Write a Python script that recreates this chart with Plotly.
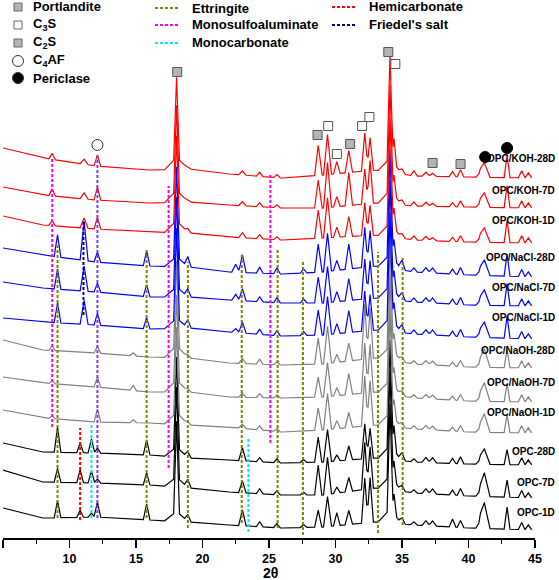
import numpy as np
import plotly.graph_objects as go

# ---------------- data ----------------
SAMPLES = ["OPC/KOH-28D", "OPC/KOH-7D", "OPC/KOH-1D",
           "OPC/NaCl-28D", "OPC/NaCl-7D", "OPC/NaCl-1D",
           "OPC/NaOH-28D", "OPC/NaOH-7D", "OPC/NaOH-1D",
           "OPC-28D", "OPC-7D", "OPC-1D"]

# baseline (background) level of each stacked pattern, a.u. (offset included)
BASE_2THETA = [5, 8, 12, 16, 19, 22, 26, 29, 33, 36, 40, 45]
BASELINES = {
    "OPC/KOH-28D":  [390, 380, 372, 368, 369, 364, 360, 363, 368, 362, 361, 360],
    "OPC/KOH-7D":   [351, 343, 338, 335, 336, 333, 330, 330, 335, 332, 331, 330],
    "OPC/KOH-1D":   [322, 313, 309, 306, 305, 301, 298, 300, 303, 298, 296, 295],
    "OPC/NaCl-28D": [290, 283, 276, 272, 271, 266, 264, 266, 272, 266, 263, 261],
    "OPC/NaCl-7D":  [256, 250, 246, 241, 241, 238, 235, 235, 240, 236, 233, 232],
    "OPC/NaCl-1D":  [220, 216, 213, 209, 210, 206, 202, 203, 208, 204, 201, 199],
    "OPC/NaOH-28D": [198, 188, 185, 181, 180, 175, 173, 174, 180, 174, 171, 170],
    "OPC/NaOH-7D":  [161, 155, 151, 146, 146, 141, 140, 141, 146, 140, 137, 136],
    "OPC/NaOH-1D":  [128, 120, 116, 115, 113, 111, 106, 108, 113, 109, 106, 105],
    "OPC-28D":      [95, 86, 85, 83, 80, 78, 75, 76, 80, 76, 74, 73],
    "OPC-7D":       [68, 56, 55, 53, 50, 46, 43, 43, 50, 45, 42, 40],
    "OPC-1D":       [30, 20, 21, 18, 16, 13, 10, 11, 16, 13, 10, 8],
}

# diffraction peaks: position, half base width (deg 2theta)
PEAK_2THETA = [8.7, 9.1, 10.8, 11.1, 11.65, 12.1, 14.8, 15.8, 18.05, 18.05,
               18.9, 22.5, 23.0, 24.3, 25.6, 27.6, 28.7, 29.4, 30.1, 31.0,
               32.2, 32.6, 34.1, 34.1, 34.4, 35.0, 35.9, 36.8, 37.3, 38.8,
               39.4, 41.2, 40.9, 42.9, 44.0, 44.5]
PEAK_HALFWIDTH = [0.25, 0.25, 0.25, 0.3, 0.25, 0.25, 0.25, 0.25, 0.22, 0.9,
                  0.25, 0.3, 0.28, 0.25, 0.25, 0.25, 0.27, 0.3, 0.25, 0.28,
                  0.25, 0.25, 0.22, 0.9, 0.2, 0.25, 0.25, 0.3, 0.3, 0.25,
                  0.25, 0.42, 0.35, 0.22, 0.25, 0.25]
PEAK_HEIGHTS = {
    "OPC/KOH-28D":  [6, 0, 0, 5, 0, 11, 0, 0, 80, 12, 2, 0, 4, 4, 3, 0, 30, 40, 12, 22,
                     38, 33, 105, 14, 25, 5, 5, 4, 3, 5, 7, 14, 5, 22, 7, 5],
    "OPC/KOH-7D":   [7, 0, 0, 6, 0, 13, 0, 0, 85, 12, 2, 0, 4, 4, 3, 0, 28, 45, 10, 33,
                     35, 43, 105, 14, 20, 5, 4, 4, 3, 4, 6, 14, 5, 22, 7, 5],
    "OPC/KOH-1D":   [5, 0, 0, 10, 0, 12, 0, 0, 85, 12, 4, 0, 5, 4, 3, 0, 28, 40, 10, 20,
                     33, 30, 105, 14, 20, 5, 4, 4, 3, 4, 6, 14, 5, 22, 7, 5],
    "OPC/NaCl-28D": [0, 22, 0, 39, 0, 10, 0, 15, 90, 10, 10, 8, 18, 6, 6, 4, 28, 38, 10, 25,
                     40, 36, 105, 14, 20, 10, 4, 5, 5, 5, 7, 15, 5, 22, 7, 5],
    "OPC/NaCl-7D":  [0, 20, 0, 25, 0, 9, 0, 12, 90, 10, 8, 6, 12, 5, 5, 4, 26, 36, 10, 22,
                     40, 38, 105, 14, 20, 8, 4, 5, 5, 5, 7, 15, 5, 22, 7, 5],
    "OPC/NaCl-1D":  [0, 20, 0, 24, 0, 12, 0, 11, 90, 10, 8, 4, 11, 5, 5, 4, 25, 38, 10, 22,
                     40, 36, 105, 14, 20, 8, 4, 5, 5, 5, 7, 15, 5, 22, 7, 5],
    "OPC/NaOH-28D": [5, 0, 0, 0, 0, 7, 3, 0, 85, 12, 3, 0, 5, 5, 3, 0, 26, 37, 8, 18,
                     55, 50, 105, 14, 18, 5, 3, 4, 4, 4, 6, 18, 5, 18, 7, 5],
    "OPC/NaOH-7D":  [3, 0, 0, 0, 0, 10, 5, 0, 85, 12, 3, 0, 4, 4, 3, 0, 20, 34, 8, 21,
                     50, 48, 105, 14, 18, 5, 3, 4, 4, 4, 6, 18, 5, 18, 7, 5],
    "OPC/NaOH-1D":  [3, 0, 0, 0, 0, 13, 3, 0, 85, 12, 3, 0, 4, 4, 3, 0, 22, 36, 8, 15,
                     50, 45, 105, 14, 18, 5, 3, 4, 4, 4, 6, 18, 5, 18, 7, 5],
    "OPC-28D":      [0, 25, 10, 0, 14, 5, 0, 15, 90, 10, 6, 0, 13, 4, 4, 3, 25, 32, 6, 14,
                     35, 30, 105, 14, 25, 8, 3, 5, 5, 5, 7, 15, 5, 15, 7, 5],
    "OPC-7D":       [0, 14, 13, 0, 12, 4, 0, 12, 90, 10, 8, 0, 12, 5, 4, 3, 30, 37, 6, 14,
                     47, 42, 105, 14, 20, 6, 3, 5, 5, 5, 7, 23, 6, 17, 7, 5],
    "OPC-1D":       [0, 17, 7, 0, 4, 15, 0, 16, 90, 10, 7, 0, 16, 5, 4, 3, 17, 30, 13, 14,
                     45, 45, 105, 14, 20, 6, 3, 5, 5, 8, 7, 25, 8, 22, 7, 5],
}

# phase reference lines: 2theta and phase
REF_2THETA = [8.7, 9.1, 11.05, 12.1, 10.8, 11.65, 15.8, 17.45, 18.9, 22.95,
              23.45, 25.1, 25.65, 27.55, 33.2, 35.05]
REF_PHASE = ["Monosulfoaluminate", "Ettringite", "Friedel's salt", "Friedel's salt (KOH)",
             "Hemicarbonate", "Monocarbonate", "Ettringite", "Monosulfoaluminate",
             "Ettringite", "Ettringite", "Monocarbonate", "Monosulfoaluminate",
             "Ettringite", "Ettringite", "Ettringite", "Ettringite"]

# identified-phase symbols above the KOH-28D pattern
MARK_PHASE = ["Portlandite", "Portlandite", "Portlandite", "C2S", "C2S", "C2S",
              "C3S", "C3S", "C3S", "C3S", "C3S", "C4AF", "Periclase", "Periclase"]
MARK_2THETA = [18.1, 28.65, 33.97, 31.1, 37.3, 39.4,
               29.45, 30.1, 32.0, 32.55, 34.5, 12.1, 41.25, 42.9]

# ---------------- layout constants ----------------
W, H = 559, 580
PL, PR, PB = 3, 535, 538          # plot area in pixels (left, right, bottom)
def lvl(py):                       # pixel row -> y value (1 a.u. per pixel)
    return PB - py
def xp(px):
    return (px - PL) / (PR - PL)
def yp(py):
    return (PB - py) / PB

GROUP_COLOR = {"KOH": "#ff0000", "NaCl": "#0000ff", "NaOH": "#808080", "OPC": "#000000"}
PHASE_COLOR = {"Ettringite": "#808000", "Monosulfoaluminate": "#ff00ff",
               "Monocarbonate": "#00e5ff", "Hemicarbonate": "#ff0000",
               "Friedel's salt": "#000080", "Friedel's salt (KOH)": "#7a3cf0"}
REF_SPAN_PX = [(157, 427), (243, 518), (222, 315), (155, 518), (428, 520), (425, 518),
               (250, 518), (186, 468), (262, 528), (255, 523), (438, 532), (175, 443),
               (248, 528), (262, 535), (252, 533), (258, 525)]
MARK_Y_PX = [72, 135, 52, 144, 163, 164, 126, 154, 126, 117, 64, 145, 157, 148]
LABEL_Y_PX = [158, 190, 220, 257, 287, 317, 350, 382, 412, 451, 482, 512]

FONT = "Liberation Sans, Arial, sans-serif"

def group_of(name):
    for g in ("KOH", "NaCl", "NaOH"):
        if g in name:
            return g
    return "OPC"

fig = go.Figure()

# patterns, drawn bottom first
for name in reversed(SAMPLES):
    heights = PEAK_HEIGHTS[name]
    xs = set(BASE_2THETA)
    for p, hw, h in zip(PEAK_2THETA, PEAK_HALFWIDTH, heights):
        if h > 0:
            xs.update([p - hw, p, p + hw])
    xs = np.array(sorted(x for x in xs if 5 <= x <= 44.8))
    ys = np.interp(xs, BASE_2THETA, BASELINES[name])
    for p, hw, h in zip(PEAK_2THETA, PEAK_HALFWIDTH, heights):
        if h > 0:
            ys = ys + h * np.clip(1 - np.abs(xs - p) / hw, 0, None)
    fig.add_trace(go.Scatter(x=xs, y=ys, mode="lines", name=name,
                             line=dict(color=GROUP_COLOR[group_of(name)], width=1.2),
                             hoverinfo="skip", showlegend=False))

# phase reference lines
for x, ph, (top, bot) in zip(REF_2THETA, REF_PHASE, REF_SPAN_PX):
    fig.add_shape(type="line", x0=x, x1=x, y0=lvl(bot), y1=lvl(top), xref="x", yref="y",
                  line=dict(color=PHASE_COLOR[ph], width=2, dash="3px,2px"), layer="above")

# phase symbols
SYM = {"Portlandite": dict(symbol="square", color="#b4b4b4", line=dict(color="#555", width=1)),
       "C3S": dict(symbol="square", color="#ffffff", line=dict(color="#555", width=1)),
       "C2S": dict(symbol="square", color="#b4b4b4", line=dict(color="#555", width=1)),
       "C4AF": dict(symbol="circle", color="#ffffff", line=dict(color="#333", width=1)),
       "Periclase": dict(symbol="circle", color="#000000", line=dict(color="#000", width=1))}
for ph in SYM:
    xs = [x for x, p in zip(MARK_2THETA, MARK_PHASE) if p == ph]
    ys = [lvl(y) for y, p in zip(MARK_Y_PX, MARK_PHASE) if p == ph]
    size = 11 if SYM[ph]["symbol"] == "circle" else 9
    fig.add_trace(go.Scatter(x=xs, y=ys, mode="markers", showlegend=False, hoverinfo="skip",
                             marker=dict(size=size, **SYM[ph]), cliponaxis=False))

# sample labels
for name, py in zip(SAMPLES, LABEL_Y_PX):
    fig.add_annotation(x=xp(557), xref="paper", y=lvl(py), yref="y", text=name,
                       showarrow=False, xanchor="right", yanchor="middle",
                       font=dict(family=FONT, size=10, color="black", weight="bold"))

# custom legend
sym_rows = [("Portlandite", "Portlandite", 7), ("C<sub>3</sub>S", "C3S", 25),
            ("C<sub>2</sub>S", "C2S", 43), ("C<sub>4</sub>AF", "C4AF", 61),
            ("Periclase", "Periclase", 78)]
for text, ph, py in sym_rows:
    s = SYM[ph]
    if s["symbol"] == "square":
        fig.add_shape(type="rect", xref="paper", yref="paper",
                      x0=xp(14), x1=xp(22), y0=yp(py + 4), y1=yp(py - 4),
                      fillcolor=s["color"], line=dict(color="#666", width=1))
    else:
        fig.add_shape(type="circle", xref="paper", yref="paper",
                      x0=xp(12.5), x1=xp(23.5), y0=yp(py + 5.5), y1=yp(py - 5.5),
                      fillcolor=s["color"], line=dict(color="#333", width=1))
    fig.add_annotation(x=xp(31), y=yp(py), xref="paper", yref="paper", text=text,
                       showarrow=False, xanchor="left", yanchor="middle",
                       font=dict(family=FONT, size=13, color="black", weight="bold"))

line_rows = [("Ettringite", 155, 190, 8), ("Monosulfoaluminate", 155, 190, 25),
             ("Monocarbonate", 155, 190, 43), ("Hemicarbonate", 332, 367, 7),
             ("Friedel's salt", 332, 367, 25)]
for ph, lx, tx, py in line_rows:
    fig.add_shape(type="line", xref="paper", yref="paper", x0=xp(lx), x1=xp(lx + 25),
                  y0=yp(py), y1=yp(py), line=dict(color=PHASE_COLOR[ph], width=2, dash="3px,2px"))
    fig.add_annotation(x=xp(tx), y=yp(py), xref="paper", yref="paper", text=ph,
                       showarrow=False, xanchor="left", yanchor="middle",
                       font=dict(family=FONT, size=13, color="black", weight="bold"))

# axis title
fig.add_annotation(x=xp(270), y=yp(573), xref="paper", yref="paper", text="2θ",
                   showarrow=False, xanchor="center", yanchor="middle",
                   font=dict(family=FONT, size=14, color="black", weight="bold"))

fig.update_layout(
    width=W, height=H, margin=dict(l=PL, r=W - PR, t=0, b=H - PB, autoexpand=False),
    paper_bgcolor="white", plot_bgcolor="white", showlegend=False,
    xaxis=dict(range=[5, 45], tickvals=[5, 10, 15, 20, 25, 30, 35, 40, 45], automargin=False,
               showline=True, linecolor="black", linewidth=1.5, ticks="outside",
               ticklen=8, tickwidth=1.5, tickcolor="black", showgrid=False, zeroline=False,
               tickfont=dict(family=FONT, size=12.5, color="black", weight="bold"),
               minor=dict(ticks="outside", ticklen=4, tickwidth=1.2, tickcolor="black",
                          dtick=2.5, tick0=5, showgrid=False)),
    yaxis=dict(range=[0, PB], visible=False, showgrid=False, zeroline=False, automargin=False),
)

fig.write_html("out.html", config={"displayModeBar": False, "staticPlot": True},
               post_script="document.body.style.margin='0';document.body.style.overflow='hidden';")
